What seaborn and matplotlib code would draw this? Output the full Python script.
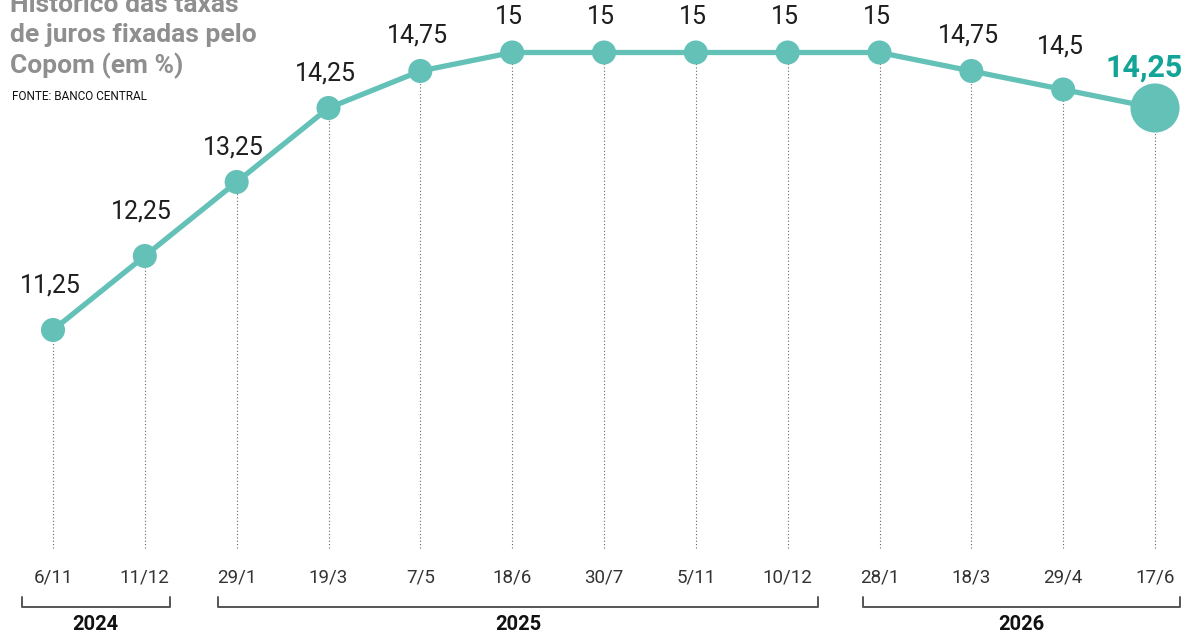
import matplotlib
matplotlib.use("Agg")
import matplotlib.pyplot as plt
import seaborn as sns
import pandas as pd

# ---- data ----
dates = ["6/11", "11/12", "29/1", "19/3", "7/5", "18/6", "30/7", "5/11", "10/12",
         "28/1", "18/3", "29/4", "17/6"]
rates = [11.25, 12.25, 13.25, 14.25, 14.75, 15, 15, 15, 15, 15, 14.75, 14.5, 14.25]
rate_labels = ["11,25", "12,25", "13,25", "14,25", "14,75", "15", "15", "15", "15",
               "15", "14,75", "14,5", "14,25"]
years = ["2024", "2025", "2026"]
year_start = [0, 2, 9]
year_end = [1, 8, 12]

title = "Histórico das taxas\nde juros fixadas pelo\nCopom (em %)"
source = "FONTE: BANCO CENTRAL"

# ---- style ----
sns.set_theme(style="white")
plt.rcParams["font.family"] = ["Roboto", "DejaVu Sans"]

teal = "#63c1b8"
teal_dark = "#12a597"
W, H = 1197, 633
fig = plt.figure(figsize=(W / 100, H / 100), dpi=100)
ax = fig.add_axes([0, 0, 1, 1])

df = pd.DataFrame({"x": range(len(dates)), "rate": rates})
n = len(dates)

step = (1155 - 53) / (n - 1)
ppu = 74.0

def fy(px):
    return 1 - px / H

# dotted guides
ybot = 11.25 - (548 - 330) / ppu
ax.vlines(df["x"], ybot, df["rate"], colors="#666666", linewidth=0.8,
          linestyles=(0, (1, 2)), zorder=1)

sns.lineplot(data=df, x="x", y="rate", color=teal, linewidth=3.8, ax=ax, zorder=2)
sns.scatterplot(data=df.iloc[:-1], x="x", y="rate", color=teal, s=300,
                edgecolor="none", ax=ax, zorder=3)
sns.scatterplot(data=df.iloc[-1:], x="x", y="rate", color=teal, s=1250,
                edgecolor="none", ax=ax, zorder=3)
ax.set_xlim(-53 / step, (W - 53) / step)
ax.set_ylim(11.25 - (H - 330) / ppu, 11.25 + 330 / ppu)
ax.axis("off")
xt = ax.get_xaxis_transform()

# value labels
for i, (r, lab) in enumerate(zip(rates, rate_labels)):
    last = i == n - 1
    if last:
        ax.annotate(lab, (i, r), xytext=(-11 * 0.72, 40 * 0.72),
                    textcoords="offset points", ha="center", va="center",
                    fontsize=22, fontweight="bold", color=teal_dark, zorder=4)
        continue
    dy = 45 if i < 2 else (43 if i == n - 2 else 35)
    ax.annotate(lab, (i, r), xytext=(-3 * 0.72, dy * 0.72), textcoords="offset points",
                ha="center", va="center", fontsize=18, fontweight="normal",
                color="#1e1e1e", zorder=4)

# date labels
for i, d in enumerate(dates):
    ax.text(i, fy(578), d, transform=xt, ha="center", va="center",
            fontsize=13.5, fontweight="normal", color="#333333")

# year brackets
left_pad = [0.34, 0.2, 0.18]
right_pad = [0.27, 0.33, 0.27]
for y, s, e, lp, rp in zip(years, year_start, year_end, left_pad, right_pad):
    x0, x1 = s - lp, e + rp
    ax.plot([x0, x0, x1, x1], [fy(597), fy(607), fy(607), fy(597)],
            transform=xt, color="#555555", linewidth=1.4, clip_on=False)
    ax.text((x0 + x1) / 2, fy(625), y, transform=xt, ha="center", va="center",
            fontsize=14.5, fontweight="bold", color="#111111")

# title & source
fig.text(10 / W, fy(-7), title, ha="left", va="top", fontsize=19,
         fontweight="bold", color="#8f8f8f", linespacing=1.3)
fig.text(12 / W, fy(97), source, ha="left", va="center", fontsize=8.5,
         color="#111111")

fig.savefig("out.png", dpi=100)
